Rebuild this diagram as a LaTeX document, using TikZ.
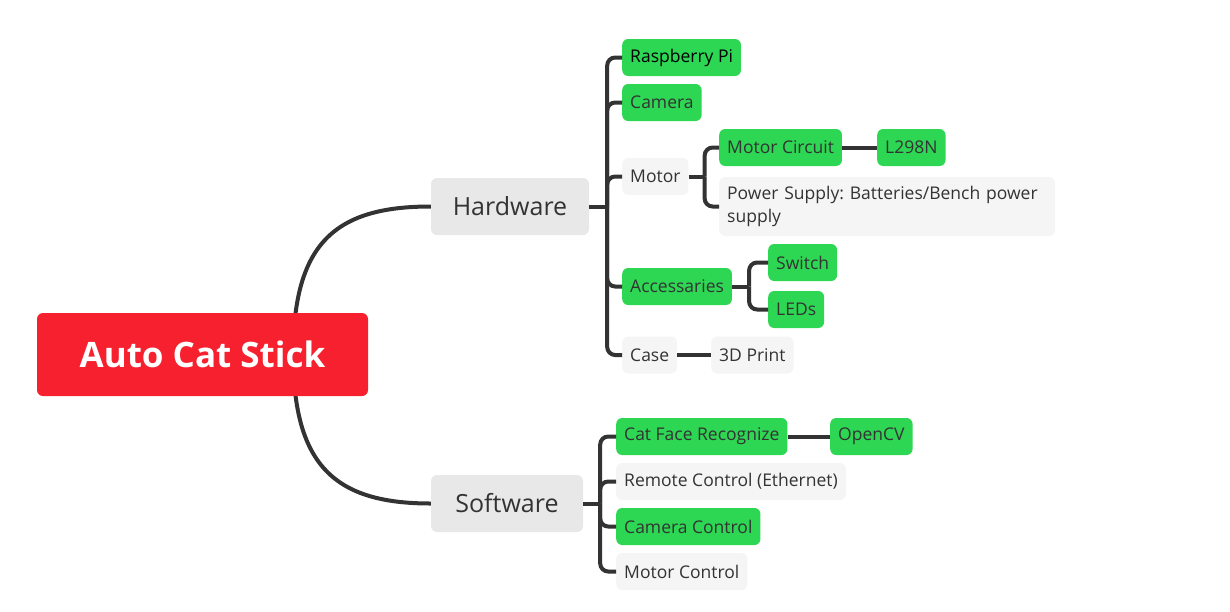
\documentclass[tikz,border=0pt]{standalone}
\usepackage{fontspec}
\setmainfont{Open Sans}
\frenchspacing
\usetikzlibrary{positioning,backgrounds,calc}
\definecolor{rootred}{HTML}{F7202F}
\definecolor{leafgreen}{HTML}{2DD653}
\definecolor{maingray}{HTML}{E8E8E8}
\definecolor{subgray}{HTML}{F5F5F5}
\definecolor{linkgray}{HTML}{333333}
\tikzset{
  rootbox/.style={fill=rootred,text=white,rounded corners=6pt,minimum width=331pt,minimum height=83pt,
    font=\fontsize{35}{40}\selectfont\bfseries},
  mainbox/.style={fill=maingray,text=linkgray,rounded corners=6pt,minimum height=57pt,
    font=\fontsize{25}{29}\selectfont},
  leaf/.style={anchor=west,rounded corners=6pt,minimum height=37pt,inner xsep=8pt,text=linkgray,
    font=\fontsize{17.5}{23}\selectfont},
  done/.style={leaf,fill=leafgreen},
  todo/.style={leaf,fill=subgray},
  link/.style={draw=linkgray,line width=4pt},
  branch/.style={link,rounded corners=8pt}
}
\begin{document}
\begin{tikzpicture}[x=1pt,y=-1pt]
  \useasboundingbox (0,0) rectangle (1230,611);
  % centre and first level
  \node[rootbox] (acs) at (202.5,354.5) {Auto Cat Stick};
  \node[mainbox,minimum width=158pt] (hw) at (510,206.5) {Hardware};
  \node[mainbox,minimum width=152pt] (sw) at (507,503.5) {Software};
  % hardware parts
  \node[done,text=black] (rpi) at (622,57.5) {Raspberry Pi};
  \node[done] (cam) at (622,102.5) {Camera};
  \node[todo] (mot) at (622,176.5) {Motor};
  \node[done] (mcir) at (719,147.5) {Motor Circuit};
  \node[done] (l298) at (877,147.5) {L298N};
  \node[todo,minimum height=59pt,text width=320pt,align=left] (psu) at (719,206.5)
    {Power Supply: Batteries/Bench power supply};
  \node[done] (acc) at (622,286.5) {Accessaries};
  \node[done] (swi) at (768,262.5) {Switch};
  \node[done] (led) at (768,309.5) {LEDs};
  \node[todo] (case) at (622,355) {Case};
  \node[todo] (prt) at (711,355) {3D Print};
  % software parts
  \node[done] (cfr) at (616,436.5) {Cat Face Recognize};
  \node[done] (ocv) at (830,436.5) {OpenCV};
  \node[todo] (rc) at (616,481.5) {Remote Control (Ethernet)};
  \node[done] (cc) at (616,526.5) {Camera Control};
  \node[todo] (mctl) at (616,571.5) {Motor Control};
  \begin{pgfonlayer}{background}
    \coordinate (acs-j) at ($(acs.east)+(-75,0)$);
    \draw[link] (acs-j) .. controls ($(acs-j)+(0,-112)$) and ($(hw.west)+(-95,0)$) .. (hw.west);
    \draw[link] (acs-j) .. controls ($(acs-j)+(0,112)$) and ($(sw.west)+(-95,0)$) .. (sw.west);
  \end{pgfonlayer}
  % branches
  \coordinate (hw-j) at ($(hw.east)+(18,0)$);
  \draw[link] (hw.east) -- (hw-j);
  \foreach \c in {rpi,cam,mot,acc,case}
    \draw[branch] (hw-j) |- (\c.west);
  \coordinate (mot-j) at ($(mot.east)+(16,0)$);
  \draw[link] (mot.east) -- (mot-j);
  \foreach \c in {mcir,psu}
    \draw[branch] (mot-j) |- (\c.west);
  \coordinate (acc-j) at ($(acc.east)+(17,0)$);
  \draw[link] (acc.east) -- (acc-j);
  \foreach \c in {swi,led}
    \draw[branch] (acc-j) |- (\c.west);
  \draw[link] (mcir) -- (l298);
  \draw[link] (case) -- (prt);
  \coordinate (sw-j) at ($(sw.east)+(17,0)$);
  \draw[link] (sw.east) -- (sw-j);
  \foreach \c in {cfr,rc,cc,mctl}
    \draw[branch] (sw-j) |- (\c.west);
  \draw[link] (cfr) -- (ocv);
\end{tikzpicture}
\end{document}
